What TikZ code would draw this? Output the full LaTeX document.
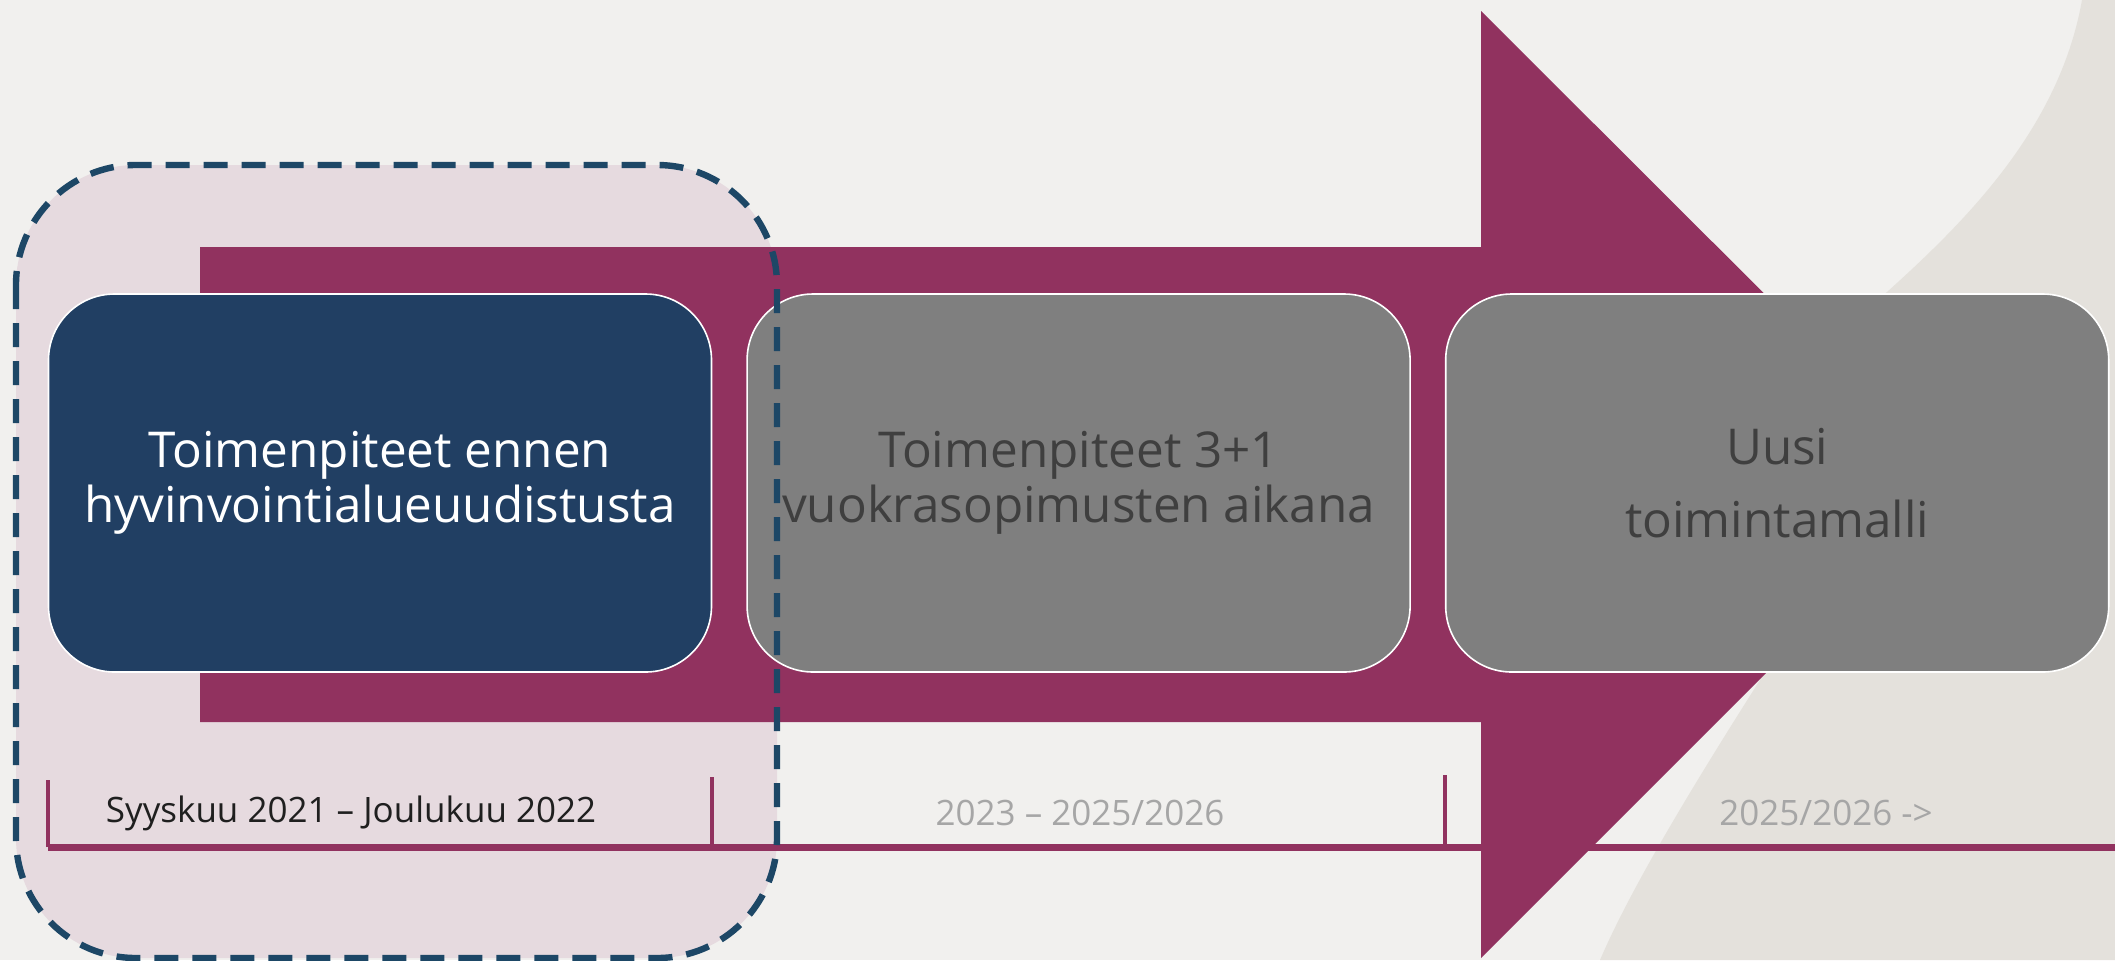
\documentclass[tikz,border=0pt]{standalone}
\usepackage{fontspec}
\setmainfont{Open Sans}
\usepackage{tikz}
\usetikzlibrary{positioning}
\usepackage{xcolor}
\definecolor{tausta}{HTML}{F1F0EE}
\definecolor{kartta}{HTML}{E4E1DC}
\definecolor{viini}{HTML}{91325F}
\definecolor{vaaleapinkki}{HTML}{E6DADF}
\definecolor{tummasininen}{HTML}{213F63}
\definecolor{katkoviiva}{HTML}{1D4766}
\definecolor{harmaalaatikko}{HTML}{7F7F7F}
\definecolor{tummateksti}{HTML}{3F3F3F}
\definecolor{vaaleateksti}{HTML}{A6A6A6}

\begin{document}
\begin{tikzpicture}[
    x=0.5pt,y=-0.5pt,
    node distance=17pt,
    vaihe/.style={draw=white,line width=0.8pt,rounded corners=33pt,
      minimum width=331.5pt,minimum height=189pt,inner sep=0pt,align=center,
      font=\fontsize{24.7}{27.5}\selectfont},
    jana/.style={viini,line width=3.5pt},
    merkki/.style={viini,line width=2pt},
    aika/.style={font=\fontsize{17.5}{20}\selectfont,inner sep=0pt}
  ]
    \useasboundingbox[fill=tausta] (0,0) rectangle (2115,960);
    % karttakuvio oikealla
    \fill[kartta] (2115,0) -- (2082,0) .. controls (2050,180) and (1880,290) .. (1790,380)
      -- (1760,680) .. controls (1690,790) and (1630,890) .. (1600,960) -- (2115,960) -- cycle;
    \fill[vaaleapinkki,rounded corners=60pt] (16,165) rectangle (777,958);
    % nuoli
    \fill[viini] (200,247) -- (1481,247) -- (1481,11) -- (1955,484)
      -- (1481,958) -- (1481,722) -- (200,722) -- cycle;
    \node[vaihe,fill=tummasininen,text=white] (ennen) at (380,483)
      {Toimenpiteet ennen\\hyvinvointialueuudistusta};
    \node[vaihe,fill=harmaalaatikko,text=tummateksti,right=of ennen] (vuokra)
      {Toimenpiteet 3+1\\vuokrasopimusten aikana};
    \node[vaihe,fill=harmaalaatikko,text=tummateksti,right=of vuokra,
      font=\fontsize{24.7}{36.5}\selectfont] (uusi) {Uusi\\toimintamalli};
    % aikajana
    \coordinate (janaalku) at (48,847);
    \coordinate (janaloppu) at (2115,847);
    \draw[jana] (janaalku) -- (janaloppu);
    \draw[merkki] (ennen.west |- janaalku) -- ++(0,-67);
    \draw[merkki] (ennen.east |- janaalku) -- ++(0,-70);
    \draw[merkki] (uusi.west |- janaalku) -- ++(0,-72);
    \node[aika,text=black!88] (aika1) at (351,813) {Syyskuu 2021 – Joulukuu 2022};
    \node[aika,text=vaaleateksti] (aika2) at (1080,813) {2023 – 2025/2026};
    \node[aika,text=vaaleateksti] (aika3) at (1826,813) {2025/2026 ->};
    \draw[katkoviiva,line width=3.2pt,dash pattern=on 12pt off 7pt,rounded corners=60pt]
      (16,165) rectangle (777,958);
  \end{tikzpicture}
\end{document}
